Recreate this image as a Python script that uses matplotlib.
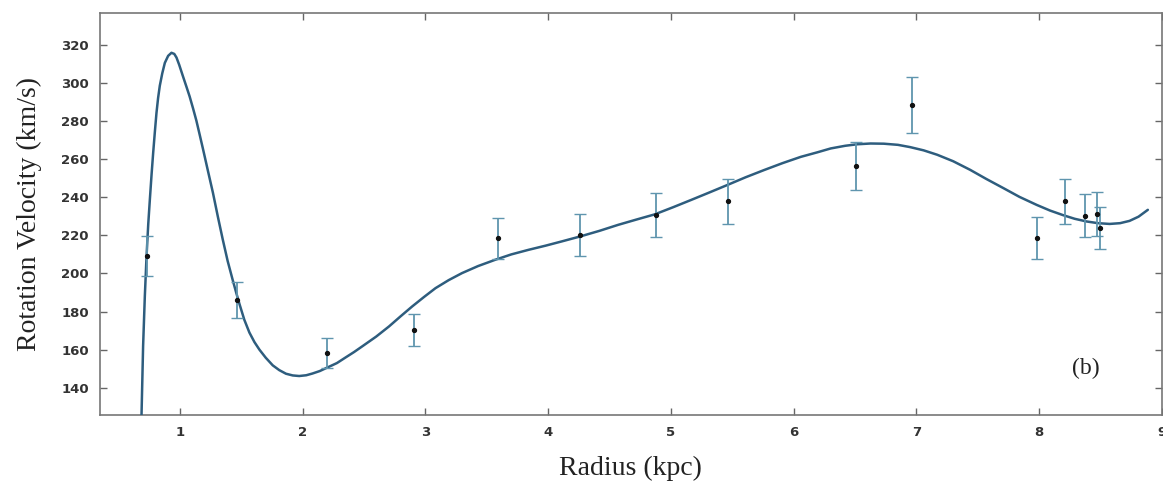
import matplotlib
matplotlib.use('Agg')
import matplotlib.pyplot as plt

# observed points (radius kpc, velocity km/s, error)
radius = [0.734, 1.468, 2.203, 2.907, 3.589, 4.26, 4.876, 5.463, 6.505, 6.965, 7.985, 8.21, 8.372, 8.468, 8.50]
velocity = [209.0, 186.2, 158.2, 170.2, 218.5, 220.3, 230.8, 237.8, 256.5, 288.3, 218.6, 237.8, 230.3, 231.2, 223.9]
error = [10.5, 9.5, 7.8, 8.3, 10.7, 11.0, 11.4, 12.0, 12.5, 14.7, 11.0, 11.7, 11.4, 11.6, 11.1]

# fitted rotation curve
curve_r = [0.688, 0.701, 0.715, 0.729, 0.743, 0.756, 0.770, 0.783, 0.797, 0.81,
           0.823, 0.837, 0.857, 0.878, 0.905, 0.932, 0.955, 0.973, 0.995, 1.026,
           1.054, 1.08, 1.108, 1.135, 1.162, 1.19, 1.23, 1.27, 1.31, 1.35,
           1.39, 1.43, 1.46, 1.486, 1.525, 1.567, 1.608, 1.649, 1.70, 1.757,
           1.81, 1.865, 1.92, 1.973, 2.03, 2.08, 2.14, 2.2, 2.28, 2.352,
           2.42, 2.487, 2.6, 2.704, 2.8, 2.893, 2.99, 3.083, 3.19, 3.299,
           3.43, 3.57, 3.70, 3.84, 3.98, 4.11, 4.26, 4.42, 4.57, 4.72,
           4.868, 5.02, 5.166, 5.31, 5.463, 5.61, 5.761, 5.91, 6.059, 6.195,
           6.302, 6.42, 6.519, 6.627, 6.735, 6.85, 6.95, 7.06, 7.17, 7.30,
           7.438, 7.57, 7.709, 7.84, 7.98, 8.09, 8.196, 8.29, 8.386, 8.48,
           8.575, 8.66, 8.737, 8.81, 8.886]
curve_v = [125.4, 161.9, 188.0, 209.0, 226.0, 238.8, 252.0, 263.3, 274.5, 284.3,
           292.0, 298.5, 305.0, 310.5, 314.2, 315.8, 315.2, 313.3, 309.5, 303.4,
           298.0, 292.9, 286.6, 280.2, 272.8, 265.0, 253.6, 242.3, 229.8, 217.8,
           206.5, 196.8, 189.8, 184.0, 175.8, 169.0, 164.0, 160.0, 155.8, 151.8,
           149.3, 147.4, 146.5, 146.2, 146.6, 147.5, 148.8, 150.6, 153.0, 156.0,
           158.8, 161.8, 166.9, 172.2, 177.6, 182.7, 187.7, 192.3, 196.5, 200.2,
           203.9, 207.2, 210.0, 212.4, 214.6, 216.8, 219.4, 222.4, 225.5, 228.3,
           231.0, 234.8, 238.6, 242.4, 246.5, 250.5, 254.3, 257.9, 261.2, 263.6,
           265.6, 267.0, 267.8, 268.2, 268.1, 267.5, 266.3, 264.6, 262.3, 258.9,
           254.4, 249.6, 244.8, 240.2, 236.0, 233.0, 230.6, 228.7, 227.3, 226.4,
           226.0, 226.4, 227.6, 229.8, 233.4]

xticks = [1, 2, 3, 4, 5, 6, 7, 8, 9]
yticks = [140, 160, 180, 200, 220, 240, 260, 280, 300, 320]

fig = plt.figure(figsize=(11.63, 4.91), dpi=100)
ax = fig.add_axes([0.086, 0.155, 0.913, 0.819])

# curva ajustada
ax.plot(curve_r, curve_v, color='#2e5d7e', linewidth=1.8,
        solid_joinstyle='round', solid_capstyle='round', zorder=3)

# pontos com barras de erro
ax.errorbar(radius, velocity, yerr=error, fmt='o', color='#111111', markersize=2.8,
            ecolor='#5f95ae', elinewidth=1.3, capsize=4, capthick=1.0, zorder=4)

ax.set_xlim(0.35, 9.0)
ax.set_ylim(125.8, 336.8)
ax.set_xticks(xticks)
ax.set_yticks(yticks)
ax.tick_params(direction='in', length=5, width=1, color='#666666',
               top=True, right=True, labelsize=9.5, labelcolor='#333333', pad=8)
for lbl in ax.get_xticklabels() + ax.get_yticklabels():
    lbl.set_fontweight('bold')
for sp in ax.spines.values():
    sp.set_color('#777777')
    sp.set_linewidth(1.2)

ax.set_xlabel('Radius (kpc)', family='Liberation Serif', fontsize=20, color='#222222', labelpad=12)
ax.set_ylabel('Rotation Velocity (km/s)', family='Liberation Serif', fontsize=20, color='#222222', labelpad=14)

ax.text(8.38, 150, '(b)', family='Liberation Serif', fontsize=17, color='#222222',
        ha='center', va='center')

fig.savefig('out.png', dpi=100)
